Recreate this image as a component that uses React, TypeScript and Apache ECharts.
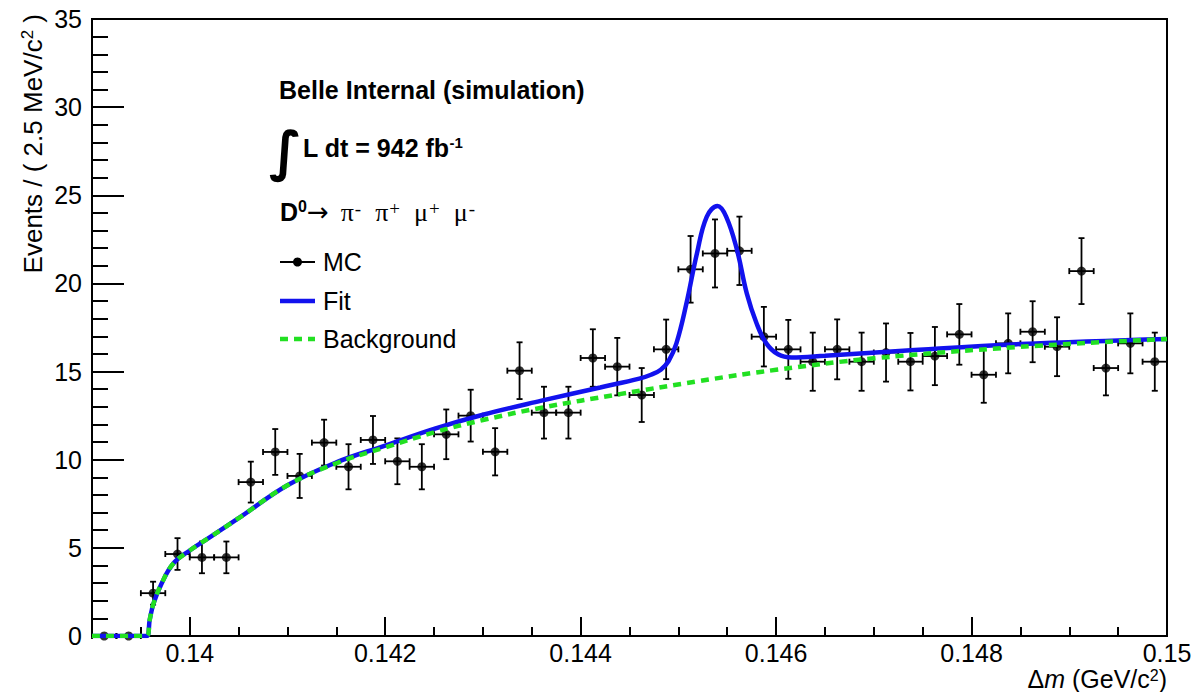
import React, { useEffect, useRef } from 'react';
import * as echarts from 'echarts';

// ---- axis ranges and ticks ----
const X_MIN = 0.139;
const X_MAX = 0.15;
const Y_MIN = 0;
const Y_MAX = 35;
const BIN_WIDTH = 0.00025;
const X_MAJOR_TICKS = [0.14, 0.142, 0.144, 0.146, 0.148, 0.15];
const X_MINOR_TICKS = [
  0.1395, 0.14, 0.1405, 0.141, 0.1415, 0.142, 0.1425, 0.143, 0.1435, 0.144, 0.1445,
  0.145, 0.1455, 0.146, 0.1465, 0.147, 0.1475, 0.148, 0.1485, 0.149, 0.1495,
];

// ---- MC histogram (44 bins of 0.25 MeV from 0.139 to 0.150) ----
const MC_COUNTS = [
  0, 0, 2.43, 4.65, 4.46, 4.46, 8.73, 10.44, 9.08, 10.97,
  9.6, 11.12, 9.91, 9.6, 11.44, 12.5, 10.45, 15.05, 12.67, 12.67,
  15.77, 15.28, 13.67, 16.26, 20.8, 21.7, 21.85, 16.98, 16.26, 15.56,
  16.26, 15.56, 16.08, 15.56, 15.88, 17.11, 14.82, 16.6, 17.26, 16.41,
  20.7, 15.2, 16.6, 15.56,
];
const MC_ERRORS = [
  0, 0, 0.65, 0.9, 0.9, 0.9, 1.16, 1.3, 1.25, 1.3,
  1.28, 1.36, 1.3, 1.28, 1.41, 1.47, 1.34, 1.61, 1.47, 1.47,
  1.63, 1.63, 1.53, 1.69, 1.89, 1.93, 1.94, 1.69, 1.67, 1.65,
  1.7, 1.65, 1.65, 1.63, 1.65, 1.72, 1.59, 1.7, 1.73, 1.67,
  1.87, 1.55, 1.7, 1.65,
];

// ---- Fit curve ----
const FIT_X = [
  0.139, 0.13956, 0.13959, 0.13963, 0.13971, 0.13983, 0.14, 0.1402, 0.1405,
  0.141, 0.1415, 0.142, 0.1425, 0.143, 0.1436, 0.1442, 0.1446, 0.14472,
  0.14482, 0.1449, 0.14498, 0.14508, 0.14519, 0.14529, 0.1454, 0.14549, 0.1456,
  0.1457, 0.1458, 0.1459, 0.14602, 0.14616, 0.1465, 0.1473, 0.1485, 0.15,
];
const FIT_Y = [
  0, 0, 0.9, 1.85, 2.95, 4.1, 4.85, 5.58, 6.68,
  8.55, 9.85, 10.8, 11.75, 12.55, 13.35, 14.1, 14.6, 14.82,
  15.1, 15.6, 16.6, 18.8, 21.7, 23.78, 24.39, 23.78, 21.9,
  19.44, 17.74, 16.6, 15.98, 15.8, 15.9, 16.18, 16.56, 16.85,
];

// ---- Background curve ----
const BKG_X = [
  0.139, 0.13956, 0.13959, 0.13963, 0.13971, 0.13983, 0.14, 0.1402, 0.1405,
  0.141, 0.1415, 0.142, 0.1425, 0.143, 0.1436, 0.1444, 0.1452, 0.146,
  0.147, 0.1485, 0.15,
];
const BKG_Y = [
  0, 0, 0.9, 1.85, 2.95, 4.1, 4.85, 5.58, 6.68,
  8.55, 9.8, 10.7, 11.55, 12.25, 12.95, 13.72, 14.45, 15.1,
  15.75, 16.4, 16.85,
];

const FONT = "'Liberation Sans', Arial, Helvetica, sans-serif";
const SERIF = "'Liberation Serif', 'DejaVu Serif', serif";
const BLUE = '#1212ee';
const GREEN = '#22e022';

export default function App() {
  const ref = useRef<HTMLDivElement>(null);

  useEffect(() => {
    if (!ref.current) return;
    const chart = echarts.init(ref.current, null, { renderer: 'svg' });

    const binCenters = MC_COUNTS.map((_, i) => X_MIN + (i + 0.5) * BIN_WIDTH);
    const mcData = binCenters.map((x, i) => [x, MC_COUNTS[i], MC_ERRORS[i]]);
    const fitData = FIT_X.map((x, i) => [x, FIT_Y[i]]);
    const bkgData = BKG_X.map((x, i) => [x, BKG_Y[i]]);

    const fmtX = (v: number) => String(parseFloat(v.toFixed(4)));

    const legendY = [262, 301, 339];

    chart.setOption({
      animation: false,
      backgroundColor: '#ffffff',
      grid: {
        left: 92,
        right: 29,
        top: 19,
        bottom: 56,
        show: true,
        borderColor: '#000',
        borderWidth: 2,
        backgroundColor: 'transparent',
      },
      xAxis: [
        {
          type: 'value',
          min: X_MIN,
          max: X_MAX,
          position: 'bottom',
          axisLine: { show: true, lineStyle: { color: '#000', width: 2 } },
          axisTick: {
            show: true,
            inside: true,
            length: 19,
            customValues: X_MAJOR_TICKS,
            lineStyle: { color: '#000', width: 2 },
          },
          axisLabel: {
            show: true,
            customValues: X_MAJOR_TICKS,
            formatter: (v: number) => fmtX(v),
            color: '#000',
            fontFamily: FONT,
            fontSize: 25,
            lineHeight: 22,
            margin: 6,
          },
          splitLine: { show: false },
        },
        {
          type: 'value',
          min: X_MIN,
          max: X_MAX,
          position: 'bottom',
          axisLine: { show: false },
          axisTick: {
            show: true,
            inside: true,
            length: 9,
            customValues: X_MINOR_TICKS,
            lineStyle: { color: '#000', width: 2 },
          },
          axisLabel: { show: false },
          splitLine: { show: false },
        },
      ],
      yAxis: {
        type: 'value',
        min: Y_MIN,
        max: Y_MAX,
        interval: 5,
        axisLine: { show: true, lineStyle: { color: '#000', width: 2 } },
        axisTick: { show: true, inside: true, length: 32, lineStyle: { color: '#000', width: 2 } },
        minorTick: { show: true, splitNumber: 5, length: 16, lineStyle: { color: '#000', width: 2 } },
        axisLabel: {
          color: '#000',
          fontFamily: FONT,
          fontSize: 25,
          margin: 10,
          showMinLabel: true,
          showMaxLabel: true,
        },
        splitLine: { show: false },
        minorSplitLine: { show: false },
      },
      series: [
        {
          name: 'MC errors',
          type: 'custom',
          xAxisIndex: 0,
          yAxisIndex: 0,
          data: mcData,
          encode: { x: 0, y: 1 },
          z: 2,
          renderItem: (params: any, api: any) => {
            const x = api.value(0) as number;
            const y = api.value(1) as number;
            const e = api.value(2) as number;
            const p = api.coord([x, y]);
            const pl = api.coord([x - BIN_WIDTH / 2, y]);
            const pr = api.coord([x + BIN_WIDTH / 2, y]);
            const s = { stroke: '#000', lineWidth: 1.8 };
            const cap = 3;
            const children: any[] = [
              { type: 'line', shape: { x1: pl[0], y1: p[1], x2: pr[0], y2: p[1] }, style: s },
              { type: 'line', shape: { x1: pl[0], y1: p[1] - cap, x2: pl[0], y2: p[1] + cap }, style: s },
              { type: 'line', shape: { x1: pr[0], y1: p[1] - cap, x2: pr[0], y2: p[1] + cap }, style: s },
            ];
            if (e > 0) {
              const pt = api.coord([x, y + e]);
              const pb = api.coord([x, y - e]);
              children.push(
                { type: 'line', shape: { x1: p[0], y1: pt[1], x2: p[0], y2: pb[1] }, style: s },
                { type: 'line', shape: { x1: p[0] - cap, y1: pt[1], x2: p[0] + cap, y2: pt[1] }, style: s },
                { type: 'line', shape: { x1: p[0] - cap, y1: pb[1], x2: p[0] + cap, y2: pb[1] }, style: s },
              );
            }
            return { type: 'group', children };
          },
        },
        {
          name: 'MC',
          type: 'scatter',
          data: mcData.map((d) => [d[0], d[1]]),
          symbol: 'circle',
          symbolSize: 9,
          itemStyle: { color: '#000' },
          z: 3,
        },
        {
          name: 'Fit',
          type: 'line',
          data: fitData,
          smooth: 0.4,
          showSymbol: false,
          symbol: 'none',
          lineStyle: { color: BLUE, width: 4.5 },
          z: 4,
        },
        {
          name: 'Background',
          type: 'line',
          data: bkgData,
          smooth: 0.4,
          showSymbol: false,
          symbol: 'none',
          lineStyle: { color: GREEN, width: 4.5, type: [8, 6] },
          z: 5,
        },
      ],
      graphic: [
        // y-axis title
        {
          type: 'text',
          x: 33,
          y: 14,
          rotation: Math.PI / 2,
          style: {
            text: '{t|Events / ( 2.5 MeV/c}{s|2}{t| )}',
            align: 'right',
            verticalAlign: 'middle',
            rich: {
              t: { fontFamily: FONT, fontSize: 26, lineHeight: 28, fill: '#000' },
              s: { fontFamily: FONT, fontSize: 17, lineHeight: 17, verticalAlign: 'top', fill: '#000' },
            },
          },
        },
        // x-axis title
        {
          type: 'text',
          x: 1167,
          y: 679,
          style: {
            text: '{t|\u0394}{i|m}{t| (GeV/c}{s|2}{t|)}',
            align: 'right',
            verticalAlign: 'middle',
            rich: {
              t: { fontFamily: FONT, fontSize: 25, lineHeight: 24, fill: '#000' },
              i: { fontFamily: FONT, fontSize: 25, lineHeight: 24, fontStyle: 'italic', fill: '#000' },
              s: { fontFamily: FONT, fontSize: 16, lineHeight: 14, verticalAlign: 'top', fill: '#000' },
            },
          },
        },
        // Belle label
        {
          type: 'text',
          x: 279,
          y: 90,
          style: {
            text: 'Belle Internal (simulation)',
            fontFamily: FONT,
            fontWeight: 'bold',
            fontSize: 25,
            fill: '#000',
            verticalAlign: 'middle',
          },
        },
        // integral sign
        {
          type: 'text',
          x: 269,
          y: 151,
          style: {
            text: '\u222B',
            fontFamily: "'DejaVu Sans', sans-serif",
            fontSize: 54,
            fontWeight: 'bold',
            fill: '#000',
            verticalAlign: 'middle',
          },
        },
        {
          type: 'text',
          x: 303,
          y: 148,
          style: {
            text: '{b|L dt = 942 fb}{s|-1}',
            verticalAlign: 'middle',
            rich: {
              b: { fontFamily: FONT, fontWeight: 'bold', fontSize: 25, lineHeight: 27, fill: '#000' },
              s: { fontFamily: FONT, fontWeight: 'bold', fontSize: 15, lineHeight: 15, verticalAlign: 'top', fill: '#000' },
            },
          },
        },
        // decay
        {
          type: 'text',
          x: 280,
          y: 212,
          style: {
            text: '{b|D}{bs|0}{a|\u2192}{g|\u03C0}{s|-}{g|\u03C0}{s|+}{g|\u03BC}{s|+}{g|\u03BC}{s|-}',
            verticalAlign: 'middle',
            rich: {
              b: { fontFamily: FONT, fontWeight: 'bold', fontSize: 25, lineHeight: 27, fill: '#000' },
              bs: { fontFamily: FONT, fontWeight: 'bold', fontSize: 16, lineHeight: 16, verticalAlign: 'top', fill: '#000' },
              a: { fontFamily: "'DejaVu Sans', sans-serif", fontSize: 26, lineHeight: 27, fill: '#000', padding: [0, 12, 0, 0] },
              g: { fontFamily: SERIF, fontSize: 26, lineHeight: 27, fill: '#000', padding: [0, 1, 0, 0] },
              s: { fontFamily: SERIF, fontSize: 19, lineHeight: 17, verticalAlign: 'top', fill: '#000', padding: [0, 14, 0, 0] },
            },
          },
        },
        // legend: MC
        {
          type: 'line',
          shape: { x1: 280, y1: legendY[0], x2: 315, y2: legendY[0] },
          style: { stroke: '#000', lineWidth: 1.8 },
        },
        {
          type: 'circle',
          shape: { cx: 297.5, cy: legendY[0], r: 4.5 },
          style: { fill: '#000' },
        },
        {
          type: 'text',
          x: 323,
          y: legendY[0],
          style: { text: 'MC', fontFamily: FONT, fontSize: 25, fill: '#000', verticalAlign: 'middle' },
        },
        // legend: Fit
        {
          type: 'line',
          shape: { x1: 280, y1: legendY[1], x2: 315, y2: legendY[1] },
          style: { stroke: BLUE, lineWidth: 4.5 },
        },
        {
          type: 'text',
          x: 323,
          y: legendY[1],
          style: { text: 'Fit', fontFamily: FONT, fontSize: 25, fill: '#000', verticalAlign: 'middle' },
        },
        // legend: Background
        {
          type: 'line',
          shape: { x1: 280, y1: legendY[2], x2: 315, y2: legendY[2] },
          style: { stroke: GREEN, lineWidth: 4.5, lineDash: [8, 6] },
        },
        {
          type: 'text',
          x: 323,
          y: legendY[2],
          style: { text: 'Background', fontFamily: FONT, fontSize: 25, fill: '#000', verticalAlign: 'middle' },
        },
      ],
    });

    return () => {
      chart.dispose();
    };
  }, []);

  return (
    <div
      ref={ref}
      style={{ position: 'absolute', left: 0, top: 0, width: 1196, height: 692, background: '#fff' }}
    />
  );
}
